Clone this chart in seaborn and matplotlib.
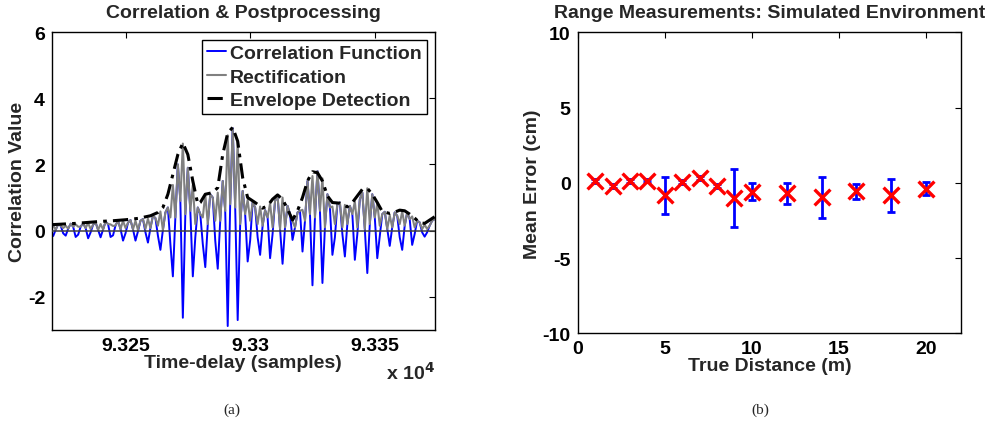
import numpy as np
import pandas as pd
import matplotlib
matplotlib.use("Agg")
import matplotlib.pyplot as plt
import seaborn as sns

# ---- panel (a): correlation samples, one value per sample from 93220 ----
sample_start = 93220
corr_vals = [
    -0.05, -0.16, 0.03, 0.20, 0.15, -0.08, -0.15, 0.06, 0.21, 0.12,
    -0.19, -0.12, 0.12, 0.22, 0.08, -0.23, -0.05, 0.18, 0.25, 0.02,
    -0.20, 0.04, 0.27, 0.20, -0.19, -0.14, 0.16, 0.30, 0.05, -0.30,
    -0.08, 0.24, 0.32, 0.04, -0.30, -0.02, 0.30, 0.35, -0.05, -0.36,
    0.08, 0.45, 0.38, -0.15, -0.58, 0.02, 0.55, 0.70, -0.40, -1.38,
    0.40, 2.00, 0.90, -2.63, 0.50, 1.90, 0.60, -1.38, -0.20, 0.70,
    0.50, -0.40, -1.10, 0.20, 1.10, 1.00, -0.30, -1.15, 0.30, 1.50,
    0.60, -2.88, 0.80, 3.10, 0.70, -2.70, 0.20, 1.20, 0.50, -0.93,
    -0.30, 0.85, 0.70, -0.20, -0.73, 0.15, 0.62, 0.40, -0.83, -0.10,
    0.90, 1.05, 0.05, -1.00, 0.10, 0.75, 0.50, -0.28, 0.10, 0.55,
    0.60, -0.63, 0.30, 1.50, 0.50, -1.65, 0.40, 1.80, 0.60, -1.58,
    0.10, 1.10, 0.70, -0.73, -0.20, 0.80, 0.85, -0.10, -0.78, 0.20,
    0.75, 0.50, -0.88, -0.10, 0.95, 1.15, 0.05, -1.28, 0.20, 1.10,
    0.40, -0.83, -0.15, 0.50, 0.57, 0.05, -0.46, 0.10, 0.55, 0.45,
    -0.20, -0.58, 0.15, 0.55, 0.35, -0.43, -0.10, 0.30, 0.25, -0.05,
    -0.18, -0.05, 0.15, 0.30, 0.35,
]

env_t = [
    93220, 93225, 93230, 93235, 93240, 93245, 93250, 93255, 93260, 93263,
    93265, 93267, 93269, 93271, 93273, 93275, 93277, 93279, 93280, 93282,
    93285, 93287, 93289, 93291, 93293, 93295, 93297, 93299, 93302, 93305,
    93307, 93309, 93311, 93313, 93315, 93317, 93319, 93321, 93323, 93325,
    93327, 93329, 93331, 93333, 93336, 93339, 93341, 93343, 93345, 93347,
    93349, 93351, 93353, 93356, 93358, 93360, 93362, 93364, 93366, 93368,
    93370, 93372, 93374,
]
env_vals = [
    0.18, 0.20, 0.22, 0.25, 0.28, 0.30, 0.33, 0.37, 0.45, 0.55,
    0.70, 1.10, 1.70, 2.30, 2.65, 2.30, 1.50, 0.80, 0.85, 1.10,
    1.15, 1.30, 2.30, 2.95, 3.12, 2.70, 1.60, 1.00, 0.85, 0.68,
    0.75, 0.95, 1.08, 0.95, 0.65, 0.32, 0.60, 1.00, 1.50, 1.78,
    1.75, 1.50, 1.05, 0.85, 0.83, 0.72, 0.85, 1.05, 1.25, 1.28,
    1.10, 0.85, 0.58, 0.52, 0.56, 0.62, 0.60, 0.50, 0.38, 0.24,
    0.22, 0.32, 0.42,
]

x_ticks_a = [93250, 93300, 93350]
x_ticklabels_a = ["9.325", "9.33", "9.335"]

# ---- panel (b): range error ----
true_dist = [1, 2, 3, 4, 5, 6, 7, 8, 9, 10, 12, 14, 16, 18, 20]
mean_err = [0.13, -0.20, 0.11, 0.15, -0.82, 0.07, 0.33, -0.22, -0.99,
            -0.60, -0.70, -0.97, -0.55, -0.82, -0.38]
std_err = [0.12, 0.12, 0.12, 0.12, 1.22, 0.12, 0.12, 0.12, 1.93,
           0.57, 0.72, 1.35, 0.50, 1.10, 0.42]

sns.set_style("white")
plt.rcParams["font.family"] = ["Liberation Sans", "DejaVu Sans"]
plt.rcParams["font.weight"] = "bold"
plt.rcParams["axes.labelweight"] = "bold"
plt.rcParams["axes.titleweight"] = "bold"
plt.rcParams["axes.unicode_minus"] = False

corr = pd.DataFrame({"t": np.arange(sample_start, sample_start + len(corr_vals)),
                     "corr": corr_vals})
corr["rect"] = corr["corr"].abs()
env = pd.DataFrame({"t": env_t, "env": env_vals})
rng_df = pd.DataFrame({"dist": true_dist, "err": mean_err, "sd": std_err})

FS = 14

fig = plt.figure(figsize=(9.9, 4.27), dpi=100)
ax1 = fig.add_axes([0.0525, 0.2248, 0.3865, 0.6979])
ax2 = fig.add_axes([0.5835, 0.2170, 0.3872, 0.7050])

# panel (a)
sns.lineplot(data=corr, x="t", y="corr", ax=ax1, color=(0, 0, 1), lw=1.4,
             estimator=None, sort=False, label="Correlation Function")
sns.lineplot(data=corr, x="t", y="rect", ax=ax1, color="#808080", lw=1.5,
             estimator=None, sort=False, label="Rectification")
sns.lineplot(data=env, x="t", y="env", ax=ax1, color="black", lw=2.2,
             estimator=None, sort=False, label="Envelope Detection")
ax1.lines[-1].set_dashes([5, 2, 1.2, 2])
ax1.axhline(0, color="#404040", lw=1.1, zorder=5)
ax1.set_xlim(93220.5, 93374)
ax1.set_ylim(-3, 6)
ax1.set_yticks([-2, 0, 2, 4, 6])
ax1.set_xticks(x_ticks_a)
ax1.set_xticklabels(x_ticklabels_a)
ax1.set_title("Correlation & Postprocessing", fontsize=FS, pad=11)
ax1.set_xlabel("Time-delay (samples)", fontsize=FS, labelpad=0)
ax1.set_ylabel("Correlation Value", fontsize=FS, labelpad=1)
ax1.text(1.0, -0.105, r"x 10$^{\mathbf{4}}$", transform=ax1.transAxes,
         ha="right", va="top", fontsize=FS, fontweight="bold")
leg = ax1.legend(loc="upper right", fontsize=FS, frameon=True, fancybox=False,
                 framealpha=1, edgecolor="black", handlelength=1.0,
                 handletextpad=0.2, borderpad=0.25, labelspacing=0.3,
                 borderaxespad=0.4)
leg.get_frame().set_linewidth(1.0)

# panel (b)
ax2.errorbar(rng_df["dist"], rng_df["err"], yerr=rng_df["sd"], fmt="none",
             ecolor=(0, 0, 1), elinewidth=2.0, capsize=2.6, capthick=2.0, zorder=2)
sns.scatterplot(data=rng_df, x="dist", y="err", ax=ax2, marker="x", color="red",
                s=130, linewidth=2.4, zorder=3)
ax2.set_xlim(0, 22)
ax2.set_ylim(-10, 10)
ax2.set_xticks([0, 5, 10, 15, 20])
ax2.set_yticks([-10, -5, 0, 5, 10])
ax2.set_title("Range Measurements: Simulated Environment", fontsize=FS, pad=11)
ax2.set_xlabel("True Distance (m)", fontsize=FS, labelpad=0)
ax2.set_ylabel("Mean Error (cm)", fontsize=FS, labelpad=1)

for ax in (ax1, ax2):
    ax.tick_params(direction="in", top=True, right=True, length=4, width=0.8,
                   labelsize=FS, colors="black", pad=5)
    for sp in ax.spines.values():
        sp.set_color("black")
        sp.set_linewidth(1.0)

fig.text(232 / 990, 1 - 410 / 427, "(a)", ha="center", va="center",
         fontsize=11, fontweight="normal", family="Liberation Serif")
fig.text(760 / 990, 1 - 410 / 427, "(b)", ha="center", va="center",
         fontsize=11, fontweight="normal", family="Liberation Serif")

fig.savefig("out.png", dpi=100)
